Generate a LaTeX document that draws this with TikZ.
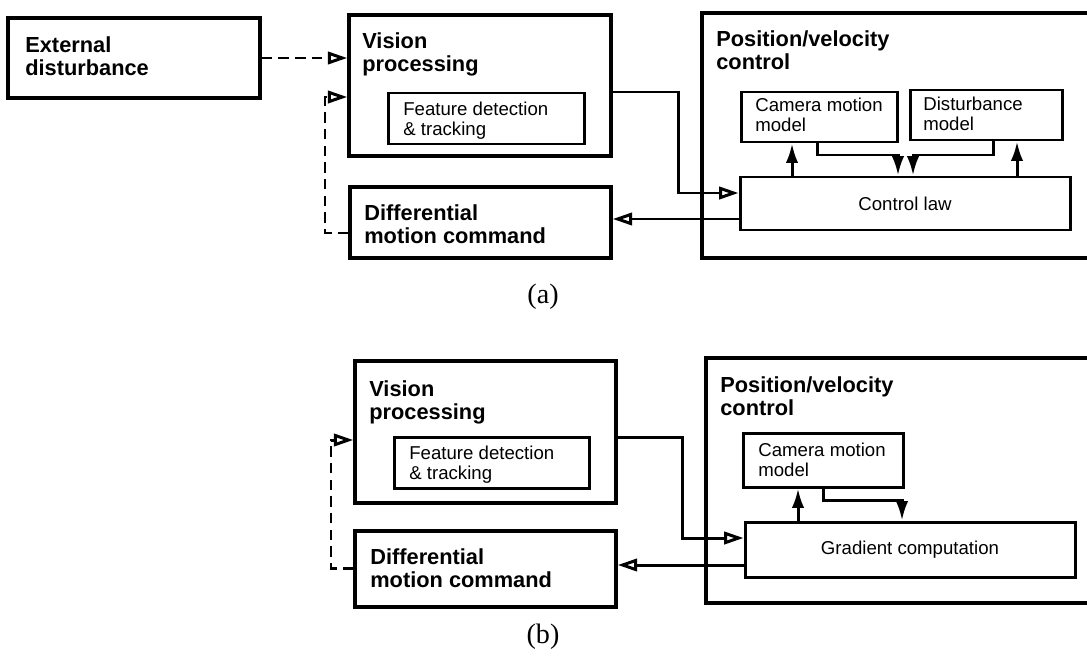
\documentclass[tikz,border=0pt]{standalone}
\usepackage{fontspec}
\setmainfont{Liberation Serif}
\setsansfont{Liberation Sans}
\usetikzlibrary{fit}
\usetikzlibrary{arrows.meta}

\begin{document}
\begin{tikzpicture}[x=0.02cm,y=-0.02cm]
\tikzset{block/.style = {draw,line width=2pt,inner sep=0pt}}
\tikzset{subblock/.style = {draw,line width=1.7pt,inner sep=0pt}}
\tikzset{title/.style = {anchor=north west,align=left,inner sep=0pt,font=\sffamily\bfseries\fontsize{12.4}{13.5}\selectfont}}
\tikzset{small/.style = {anchor=north west,align=left,inner sep=0pt,font=\sffamily\fontsize{10.6}{11}\selectfont}}
\tikzset{edge/.style = {line width=1.7pt,-{Triangle[open,length=11pt,width=7pt]}}}
\tikzset{vedge/.style = {line width=1.7pt,-{Latex[length=11pt,width=7pt]}}}
\tikzset{feedback/.style = {dash pattern=on 6pt off 3.5pt}}
\useasboundingbox (0,0) rectangle (1087,656);
\clip (0,0) rectangle (1087,656);
% (a)
\node[block, fit={(8,18) (260,98)}] (ext) {};
\node[title] (extt) at (25,36) {External\\disturbance};
\node[block, fit={(349,15) (611,156)}] (visa) {};
\node[title] (visat) at (362,32) {Vision\\processing};
\node[subblock, fit={(388,93) (584,144)}] (feata) {};
\node[small] (featat) at (403,102) {Feature detection\\\& tracking};
\node[block, fit={(350,187) (611,258)}] (diffa) {};
\node[title] (diffat) at (364,204) {Differential\\motion command};
\node[block, fit={(702,13) (1120,258)}] (posa) {};
\node[title] (posat) at (716,30) {Position/velocity\\control};
\node[subblock, fit={(741,92) (897,142)}] (cama) {};
\node[small] (camat) at (755,98) {Camera motion\\model};
\node[subblock, fit={(910,90) (1062,140)}] (dista) {};
\node[small] (distat) at (923,97) {Disturbance\\model};
\node[subblock, fit={(740,177) (1070,230)}] (lawa) {};
\node[font=\sffamily\fontsize{10.6}{11}\selectfont] at (lawa.center) {Control law};
\draw[edge,feedback] (ext.east) -- (ext.east -| visa.west);
\draw[edge,feedback] (diffa.west |- 0,233) -| (325,97) -- (visa.west |- 0,97);
\draw[edge] (visa.east |- 0,92) -| (678,193) -- (lawa.west |- 0,193);
\draw[edge] (lawa.west |- 0,219) -- (diffa.east |- 0,219);
\draw[vedge] (lawa.north -| 792,0) -- (cama.south -| 792,0);
\draw[vedge] (cama.south -| 817,0) |- (898,155) -- (lawa.north -| 898,0);
\draw[vedge] (dista.south -| 993,0) |- (913,155) -- (lawa.north -| 913,0);
\draw[vedge] (lawa.north -| 1017,0) -- (dista.south -| 1017,0);
\node[font=\fontsize{16}{18}\selectfont] (capa) at (543,297) {(a)};
% (b)
\node[block, fit={(355,361) (616,503)}] (visb) {};
\node[title] (visbt) at (369,380) {Vision\\processing};
\node[subblock, fit={(394,437) (589,488)}] (featb) {};
\node[small] (featbt) at (409,446) {Feature detection\\\& tracking};
\node[block, fit={(355,531) (616,607)}] (diffb) {};
\node[title] (diffbt) at (370,548) {Differential\\motion command};
\node[block, fit={(706,358) (1120,603)}] (posb) {};
\node[title] (posbt) at (720,376) {Position/velocity\\control};
\node[subblock, fit={(743,433) (903,487)}] (camb) {};
\node[small] (cambt) at (758,443) {Camera motion\\model};
\node[subblock, fit={(745,522) (1075,577)}] (gradb) {};
\node[font=\sffamily\fontsize{10.6}{11}\selectfont] at (gradb.center) {Gradient computation};
\draw[edge,feedback] (diffb.west |- 0,568) -| (331,440) -- (visb.west |- 0,440);
\draw[edge] (visb.east |- 0,437) -| (682,538) -- (gradb.west |- 0,538);
\draw[edge] (gradb.west |- 0,565) -- (diffb.east |- 0,565);
\draw[vedge] (gradb.north -| 798,0) -- (camb.south -| 798,0);
\draw[vedge] (camb.south -| 823,0) |- (902,500) -- (gradb.north -| 902,0);
\node[font=\fontsize{16}{18}\selectfont] (capb) at (543,637) {(b)};
\end{tikzpicture}
\end{document}
